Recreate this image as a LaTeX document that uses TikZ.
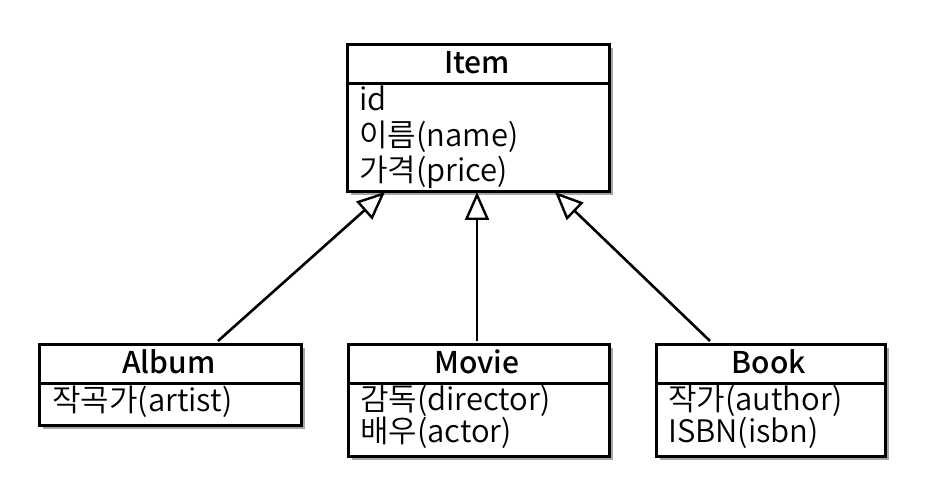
\documentclass[tikz,border=0pt]{standalone}
\usepackage{fontspec}
\setmainfont{Noto Sans CJK KR}[BoldFont={Noto Sans CJK KR Medium}, UprightFont={Noto Sans CJK KR DemiLight}]
\usetikzlibrary{arrows.meta,shadows}
\begin{document}
\begin{tikzpicture}[x=1pt,y=-1pt,
  cls/.style={draw=black, line width=3pt, fill=white, inner sep=0pt, anchor=north west,
    drop shadow={shadow xshift=3pt, shadow yshift=-3.5pt, opacity=0.35, fill=black}},
  ttl/.style={font=\fontsize{30}{30}\selectfont\bfseries, anchor=base, inner sep=0pt},
  attr/.style={font=\fontsize{31}{30}\selectfont, anchor=base west, inner sep=0pt},
  sep/.style={line width=3pt},
  inh/.style={line width=2.6pt, -{Triangle[open, length=28pt, width=24pt, line width=2.4pt]}}]
\useasboundingbox (0,0) rectangle (944,502);
\fill[white] (0,0) rectangle (944,502);
% boxes
\node[cls, minimum width=262pt, minimum height=147pt] (item) at (346,43) {};
\node[cls, minimum width=262pt, minimum height=81pt] (album) at (38,343) {};
\node[cls, minimum width=261pt, minimum height=112pt] (movie) at (347,343) {};
\node[cls, minimum width=229pt, minimum height=112pt] (book) at (655,343) {};
% dividers
\draw[sep] (346,84) -- (608,84);
\draw[sep] (38,383) -- (300,383);
\draw[sep] (347,383) -- (608,383);
\draw[sep] (655,383) -- (884,383);
% texts
\node[ttl] (itemt) at (477,74) {Item};
\node[attr] (i1) at (359,111) {id};
\node[attr] (i2) at (359,147) {이름(name)};
\node[attr] (i3) at (359,182) {가격(price)};
\node[ttl] (albumt) at (169,373) {Album};
\node[attr] (a1) at (52,411) {작곡가(artist)};
\node[ttl] (moviet) at (477,373) {Movie};
\node[attr] (m1) at (360,410) {감독(director)};
\node[attr] (m2) at (360,442) {배우(actor)};
\node[ttl] (bookt) at (769,373) {Book};
\node[attr] (b1) at (668,410) {작가(author)};
\node[attr] (b2) at (668,442) {ISBN(isbn)};
% connector end points
\coordinate (albumtop) at (218,341);
\coordinate (movietop) at (477,341);
\coordinate (booktop) at (710,341);
\coordinate (itemA) at (385,192);
\coordinate (itemM) at (477,192);
\coordinate (itemB) at (555,192);
\draw[inh] (albumtop) -- (itemA);
\draw[inh] (movietop) -- (itemM);
\draw[inh] (booktop) -- (itemB);
\end{tikzpicture}
\end{document}
